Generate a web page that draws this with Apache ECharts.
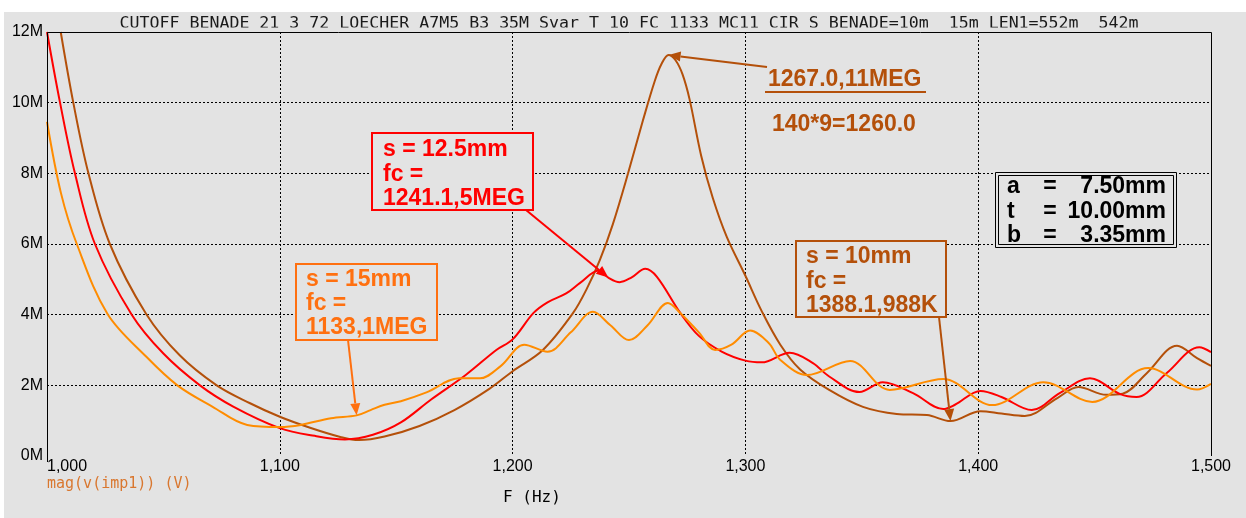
<!DOCTYPE html>
<html>
<head>
<meta charset="utf-8">
<script src="https://cdn.jsdelivr.net/npm/echarts@6/dist/echarts.min.js"></script>
<style>
  html, body { margin: 0; padding: 0; background: #ffffff; }
  #main { width: 1246px; height: 518px; }
</style>
</head>
<body>
<div id="main"></div>
<script>
// ---- plot title and axis ticks ----
const titleText = 'CUTOFF_BENADE_21_3_72_LOECHER_A7M5_B3_35M_Svar_T_10_FC_1133_MC11 CIR S_BENADE=10m  15m LEN1=552m  542m';
const xTickValues = [1000, 1100, 1200, 1300, 1400, 1500];
const xTickLabels = ['1,000', '1,100', '1,200', '1,300', '1,400', '1,500'];
const yTickValues = [0, 2, 4, 6, 8, 10, 12];
const yTickLabels = ['0M', '2M', '4M', '6M', '8M', '10M', '12M'];

// ---- mag(v(imp1)) in MV versus frequency in Hz, one trace per hole spacing s ----
// s = 15 mm
const freqS15 = [1000, 1006, 1012.8, 1026, 1042.8, 1056, 1071, 1086, 1100, 1109, 1122, 1133, 1139, 1145, 1152, 1163, 1177, 1186, 1195, 1205, 1215, 1225, 1234.5, 1242, 1250, 1258, 1266.7, 1272, 1280, 1287, 1294, 1302, 1310, 1315, 1326.5, 1345, 1362, 1385, 1406, 1428, 1449, 1473, 1494, 1500];
const magS15 = [9.46, 7.44, 6.0, 4.02, 2.8, 2.0, 1.4, 0.88, 0.82, 0.88, 1.07, 1.15, 1.3, 1.45, 1.55, 1.8, 2.2, 2.2, 2.55, 3.15, 2.95, 3.5, 4.08, 3.7, 3.28, 3.7, 4.33, 4.05, 3.5, 3.0, 3.15, 3.55, 3.2, 2.72, 2.29, 2.69, 1.87, 2.18, 1.44, 2.09, 1.53, 2.49, 1.88, 2.04];
// s = 12.5 mm
const freqS125 = [1000, 1005.6, 1012, 1020.6, 1036.4, 1050, 1065.7, 1080, 1100, 1115, 1128, 1140, 1152, 1165, 1180, 1193, 1200, 1209, 1215, 1223, 1229, 1237, 1241.1, 1246, 1251, 1257, 1262, 1272, 1280, 1290, 1300, 1307, 1319, 1329, 1336, 1349, 1359, 1372, 1385, 1390, 1401, 1410, 1423, 1435, 1448, 1461, 1468, 1481, 1495, 1500];
const magS125 = [12.0, 10.0, 8.0, 6.0, 4.0, 2.9, 2.0, 1.4, 0.79, 0.57, 0.47, 0.6, 0.95, 1.6, 2.3, 3.0, 3.3, 4.05, 4.35, 4.6, 4.9, 5.25, 5.05, 4.92, 5.05, 5.3, 5.07, 4.05, 3.4, 2.95, 2.7, 2.65, 2.92, 2.63, 2.25, 1.81, 2.09, 1.78, 1.33, 1.45, 1.84, 1.67, 1.3, 1.78, 2.2, 1.75, 1.67, 2.35, 3.08, 2.94];
// s = 10 mm
const freqS10 = [1005.9, 1011.3, 1017.8, 1027, 1042.6, 1057, 1072.9, 1087, 1100, 1113, 1126, 1134, 1145, 1160, 1175, 1190, 1200, 1213, 1226, 1232, 1237.5, 1243, 1249.6, 1256, 1261, 1264, 1267, 1270, 1273, 1276, 1281, 1286, 1292, 1300, 1307, 1315, 1323.5, 1336, 1350.5, 1365, 1378, 1388.1, 1401, 1410, 1420, 1434, 1443, 1455, 1462, 1472.5, 1485.4, 1494, 1500];
const magS10 = [12.0, 10.0, 8.0, 6.0, 4.02, 2.85, 2.0, 1.5, 1.11, 0.8, 0.54, 0.45, 0.55, 0.85, 1.3, 1.9, 2.4, 3.0, 4.05, 4.75, 5.55, 6.55, 8.0, 9.5, 10.6, 11.1, 11.35, 11.2, 10.8, 10.1, 8.5, 7.3, 6.2, 5.1, 4.1, 3.15, 2.45, 1.87, 1.39, 1.19, 1.16, 0.988, 1.27, 1.2, 1.13, 1.64, 1.95, 1.73, 1.76, 2.35, 3.12, 2.77, 2.55];

// ---- cursor read-outs: which trace, frequency, and the text of each note ----
const noteSeries = ['s125', 's15', 's10', 's10'];
const noteFreq = [1241.1, 1133, 1388.1, 1267];
const noteLines = [
  ['s = 12.5mm', 'fc =', '1241.1,5MEG'],
  ['s = 15mm', 'fc =', '1133,1MEG'],
  ['s = 10mm', 'fc =', '1388.1,988K'],
  ['1267.0,11MEG', '140*9=1260.0']
];
// bore dimensions: name and value
const dimNames = ['a', 't', 'b'];
const dimValues = ['7.50mm', '10.00mm', '3.35mm'];

const COL_S15 = '#ff8c00';
const COL_S125 = '#ff0000';
const COL_S10 = '#b4500a';
const COL_NOTE15 = '#ff7010';
const BG = '#e3e3e3';
const MONO = '"DejaVu Sans Mono", monospace';
const SANS = '"Liberation Sans", Arial, sans-serif';
const NOTE_FONT = 'bold 23px ' + SANS;

const traces = {
  s15: { freq: freqS15, mag: magS15 },
  s125: { freq: freqS125, mag: magS125 },
  s10: { freq: freqS10, mag: magS10 }
};
const pairs = (f, m) => f.map((x, i) => [x, m[i]]);

const chart = echarts.init(document.getElementById('main'), null, { renderer: 'canvas' });

const lineSeries = (name, color) => ({
  name,
  type: 'line',
  data: pairs(traces[name].freq, traces[name].mag),
  showSymbol: false,
  smooth: 0.35,
  clip: true,
  lineStyle: { color, width: 2 },
  itemStyle: { color },
  animation: false,
  z: 3
});

chart.setOption({
  animation: false,
  backgroundColor: '#ffffff',
  grid: { left: 47, top: 32, width: 1164, height: 424, containLabel: false },
  xAxis: {
    type: 'value', min: 1000, max: 1500, interval: 100,
    axisLine: { show: false }, axisTick: { show: false },
    splitLine: { show: true, showMinLine: false, showMaxLine: false, lineStyle: { color: '#000', width: 1, type: [2, 2] } },
    axisLabel: {
      color: '#000', fontFamily: SANS, fontSize: 16, margin: 3, alignMinLabel: 'left',
      formatter: v => xTickLabels[xTickValues.indexOf(v)] || ''
    }
  },
  yAxis: {
    type: 'value', min: 0, max: 12, interval: 2,
    axisLine: { show: false }, axisTick: { show: false },
    splitLine: { show: true, showMinLine: false, showMaxLine: false, lineStyle: { color: '#000', width: 1, type: [2, 2] } },
    axisLabel: {
      color: '#000', fontFamily: SANS, fontSize: 16, margin: 4,
      formatter: v => yTickLabels[yTickValues.indexOf(v)] || ''
    }
  },
  series: [lineSeries('s10', COL_S10), lineSeries('s125', COL_S125), lineSeries('s15', COL_S15)]
});

// ---- frame, notes and arrows laid over the plot ----
const px = (f, v) => chart.convertToPixel({ gridIndex: 0 }, [f, v]);
const [x0, y0] = px(1000, 0);
const [x1, y1] = px(1500, 12);

function valueAt(name, f) {
  const t = traces[name];
  return t.mag[t.freq.indexOf(f)];
}

function arrow(tail, tip, color) {
  const dx = tip[0] - tail[0], dy = tip[1] - tail[1];
  const len = Math.hypot(dx, dy);
  const ux = dx / len, uy = dy / len;
  const hl = 12, hw = 5;
  const bx = tip[0] - ux * hl, by = tip[1] - uy * hl;
  return [
    { type: 'line', z: 20, shape: { x1: tail[0], y1: tail[1], x2: bx, y2: by }, style: { stroke: color, lineWidth: 2 } },
    { type: 'polygon', z: 20, shape: { points: [[tip[0], tip[1]], [bx - uy * hw, by + ux * hw], [bx + uy * hw, by - ux * hw]] }, style: { fill: color } }
  ];
}

const noteText = (x, y, text, color, align) => ({
  type: 'text', z: 16, x, y,
  style: { text, fill: color, font: NOTE_FONT, align: align || 'left', verticalAlign: 'middle' }
});

function noteBox(x, y, w, h, color, lines, tx, ty0, lh) {
  const els = [{ type: 'rect', z: 15, shape: { x, y, width: w, height: h }, style: { fill: BG, stroke: color, lineWidth: 2 } }];
  lines.forEach((s, i) => els.push(noteText(tx, ty0 + i * lh, s, color)));
  return els;
}

const tipOf = k => px(noteFreq[k], valueAt(noteSeries[k], noteFreq[k]));

const g = [];
// page background behind the plot window
g.push({ type: 'rect', z: -10, silent: true, shape: { x: 4, y: 12, width: 1242, height: 506 }, style: { fill: BG } });
// title; its lowest pixel rows sit under the plot's top edge
g.push({ type: 'text', z: 5, x: (x0 + x1) / 2, y: 24, style: { text: titleText, fill: '#1a1a1a', font: '16.6px ' + MONO, align: 'center', verticalAlign: 'middle' } });
g.push({ type: 'rect', z: 6, silent: true, shape: { x: x0 + 60, y: 27.6, width: x1 - x0 - 60, height: 4.4 }, style: { fill: BG } });
// frame: top, left (with a short tick below), right
g.push({ type: 'polyline', z: 10, shape: { points: [[x0 + 0.5, y0 + 6], [x0 + 0.5, y1 + 0.5], [x1 + 0.5, y1 + 0.5], [x1 + 0.5, y0]] }, style: { stroke: '#000', lineWidth: 1, fill: null } });

// notes
g.push(...noteBox(372, 133, 161, 77, COL_S125, noteLines[0], 383, 150, 24.5));
g.push(...noteBox(296, 264, 141, 76, COL_NOTE15, noteLines[1], 306, 280, 24));
g.push(...noteBox(796, 241, 150, 76, COL_S10, noteLines[2], 806, 257, 24.5));

// peak read-out
g.push(noteText(768, 80, noteLines[3][0], COL_S10));
g.push({ type: 'line', z: 16, shape: { x1: 765, y1: 92, x2: 926, y2: 92 }, style: { stroke: COL_S10, lineWidth: 2 } });
g.push(noteText(772, 125, noteLines[3][1], COL_S10));

// bore dimensions box with double border
g.push({ type: 'rect', z: 15, shape: { x: 995.5, y: 172.5, width: 181, height: 75 }, style: { fill: BG, stroke: '#000', lineWidth: 1 } });
g.push({ type: 'rect', z: 15, shape: { x: 998.5, y: 175.5, width: 175, height: 69 }, style: { fill: null, stroke: '#000', lineWidth: 1 } });
dimNames.forEach((s, i) => {
  const y = 187 + i * 24.5;
  g.push(noteText(1007, y, s, '#000'));
  g.push(noteText(1050, y, '=', '#000', 'center'));
  g.push(noteText(1166, y, dimValues[i], '#000', 'right'));
});

// arrows to the read-out points on the traces
g.push(...arrow([526, 210], tipOf(0), COL_S125));
g.push(...arrow([348, 340], tipOf(1), COL_NOTE15));
g.push(...arrow([939, 317], tipOf(2), COL_S10));
g.push(...arrow([767, 67], tipOf(3), COL_S10));

// trace legend and x axis name
g.push({ type: 'text', z: 5, x: 47, y: 484, style: { text: 'mag(v(imp1)) (V)', fill: '#d9772f', font: '15px ' + MONO, align: 'left', verticalAlign: 'middle' } });
g.push({ type: 'text', z: 5, x: 503, y: 498, style: { text: 'F (Hz)', fill: '#000', font: '16px ' + MONO, align: 'left', verticalAlign: 'middle' } });

chart.setOption({ graphic: g });
</script>
</body>
</html>
